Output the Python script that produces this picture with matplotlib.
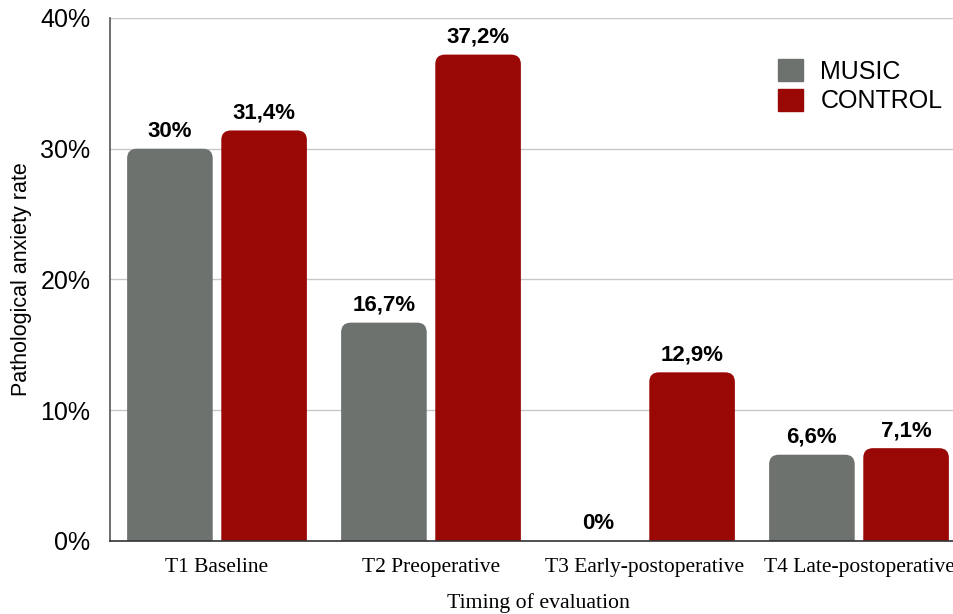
import matplotlib.pyplot as plt
import numpy as np
from matplotlib.patches import FancyBboxPatch

groups = ['T1 Baseline', 'T2 Preoperative', 'T3 Early-postoperative', 'T4 Late-postoperative']
music = [30.0, 16.7, 0.0, 6.6]
control = [31.4, 37.2, 12.9, 7.1]
music_labels = ['30%', '16,7%', '0%', '6,6%']
control_labels = ['31,4%', '37,2%', '12,9%', '7,1%']

gray = '#6d726f'
red = '#990805'

fig = plt.figure(figsize=(9.54, 6.14), dpi=100)
ax = fig.add_axes([110/954, 1 - 541/614, 856/954, 523/614])

x = np.arange(len(groups))
w = 0.4
off = 0.22

bars_m = ax.bar(x - off, music, w, color=gray, alpha=0)
bars_c = ax.bar(x + off, control, w, color=red, alpha=0)

# rounded tops
r = 0.045
aspect = (40 / 523) / (1 / 214)
for bars, col in [(bars_m, gray), (bars_c, red)]:
    for b in bars:
        h = b.get_height()
        if h <= 0:
            continue
        p = FancyBboxPatch((b.get_x(), -2), b.get_width(), h + 2,
                           boxstyle='round,pad=0,rounding_size=%f' % r,
                           mutation_aspect=aspect, facecolor=col, edgecolor='none', zorder=2)
        ax.add_patch(p)

for bars, labs in [(bars_m, music_labels), (bars_c, control_labels)]:
    for b, lab in zip(bars, labs):
        ax.annotate(lab, (b.get_x() + b.get_width() / 2, b.get_height()),
                    xytext=(0, 5), textcoords='offset points', ha='center', va='bottom',
                    fontsize=16, fontweight='bold', family='Liberation Sans')

ax.set_xlim(-0.5, 3.5)
ax.set_ylim(0, 40)
ax.set_yticks([0, 10, 20, 30, 40])
ax.set_yticklabels(['0%', '10%', '20%', '30%', '40%'], family='Liberation Sans', fontsize=18)
ax.set_xticks(x)
ax.set_xticklabels(groups, family='Liberation Serif', fontsize=15.5)
ax.tick_params(length=0, pad=12)
ax.tick_params(axis='y', pad=14)
ax.yaxis.grid(True, color='#c8c8c8', lw=1)
ax.set_axisbelow(True)
for s in ['top', 'right']:
    ax.spines[s].set_visible(False)
ax.spines['left'].set_color('#555555')
ax.spines['bottom'].set_color('#333333')
ax.spines['left'].set_linewidth(1.2)
ax.spines['bottom'].set_linewidth(1.2)

ax.set_ylabel('Pathological anxiety rate', family='Liberation Sans', fontsize=15.5, va='center')
ax.yaxis.set_label_coords((22 - 110) / 856, (541 - 279) / 523)
fig.text(538/954, 1 - 603/614, 'Timing of evaluation', family='Liberation Serif',
         fontsize=15.7, ha='center', va='center')

h1 = plt.Rectangle((0, 0), 1, 1, color=gray)
h2 = plt.Rectangle((0, 0), 1, 1, color=red)
fig.legend([h1, h2], ['MUSIC', 'CONTROL'], loc='upper left',
           bbox_to_anchor=(778/954, 1 - 59/614), frameon=False,
           prop={'family': 'Liberation Sans', 'size': 18},
           handlelength=1.0, handleheight=1.0, handletextpad=0.7,
           labelspacing=0.2, borderpad=0, borderaxespad=0)

fig.savefig('out.png', dpi=100)
